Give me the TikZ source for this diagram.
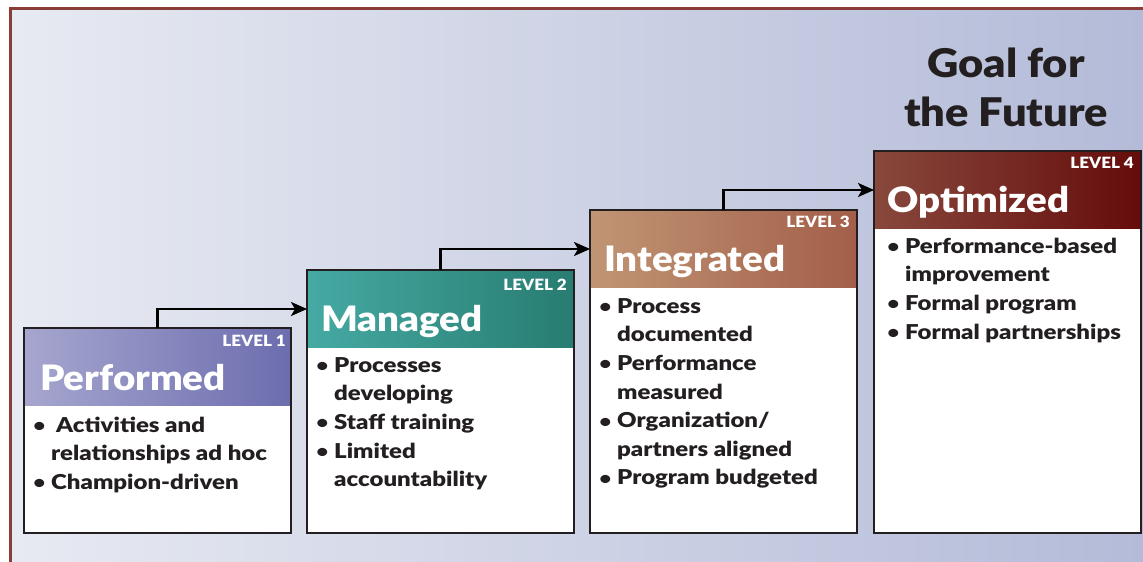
\documentclass[tikz,border=0pt]{standalone}
\usepackage{fontspec}
\setmainfont{Lato}[BoldFont={Lato Black}, BoldFeatures={FakeStretch=1.1}]
\newfontfamily\bodyfont{Lato Black}[FakeStretch=1.17]
\usetikzlibrary{arrows.meta}
\definecolor{ink}{HTML}{231F20}
\definecolor{bgL}{HTML}{E7EAF2}
\definecolor{bgR}{HTML}{B4BBD8}
\definecolor{framec}{HTML}{8A3C37}
\definecolor{p1L}{HTML}{A6A6CF}
\definecolor{p1R}{HTML}{6C6DAE}
\definecolor{p2L}{HTML}{45AAA3}
\definecolor{p2R}{HTML}{287C71}
\definecolor{p3L}{HTML}{C09574}
\definecolor{p3R}{HTML}{A35E49}
\definecolor{p4L}{HTML}{88483C}
\definecolor{p4R}{HTML}{650C0B}
\newcommand\bl{\makebox[15pt][l]{\hspace{-2.5pt}\raisebox{0.5pt}{\fontsize{17}{17}\selectfont•}}}
\newcommand\ind{\hspace*{15pt}}
\newcommand\st{\rule{0pt}{20pt}}
\tikzset{
  hdr/.style={anchor=north west, minimum width=267pt, minimum height=78pt, inner sep=0pt, outer sep=0pt},
  bodybox/.style={anchor=north west, fill=white, minimum width=267pt, inner sep=0pt, outer sep=0pt},
  boxline/.style={draw=ink, line width=2.6pt},
  ttl/.style={anchor=base west, inner sep=0pt, text=white, font=\fontsize{35}{35}\selectfont\bfseries},
  lvl/.style={anchor=base east, inner sep=0pt, text=white, font=\fontsize{15.5}{16}\selectfont\bfseries},
  txt/.style={anchor=north west, inner sep=0pt, align=left, text=ink, font=\fontsize{20.5}{28.6}\selectfont\bodyfont},
  goal/.style={anchor=north, inner sep=0pt, align=center, text=ink, font=\fontsize{39.5}{49}\selectfont\bfseries},
  arr/.style={draw=black, line width=2.6pt, -{Stealth[length=16pt,width=14pt,inset=4pt]}},
}
\begin{document}
\begin{tikzpicture}[x=1pt,y=-1pt]
\useasboundingbox (0,0) rectangle (1143,562);
\fill[white] (0,0) rectangle (1143,562);
\shade[left color=bgL, right color=bgR] (10.3,8.7) rectangle (1143,562);
\draw[framec, line width=2.7pt] (10.3,562) -- (10.3,8.7) -- (1143,8.7);

% Goal
\node[goal] (goal) at (1006,42) {\rule{0pt}{35pt}Goal for\\the Future};

% Box 1
\node[hdr, left color=p1L, right color=p1R] (h1) at (24,328) {};
\node[bodybox, minimum height=127pt] (b1) at (24,406) {};
\draw[boxline] (h1.north west) rectangle (b1.south east);
\node[ttl] (t1) at (40,390) {Performed};
\node[lvl] (l1) at (286,346) {LEVEL 1};
\node[txt] (x1) at (36,412) {\st\bl\hspace{5pt}Activities and\\\ind relationships ad hoc\\\bl Champion-driven};

% Box 2
\node[hdr, left color=p2L, right color=p2R] (h2) at (307,270) {};
\node[bodybox, minimum height=185pt] (b2) at (307,348) {};
\draw[boxline] (h2.north west) rectangle (b2.south east);
\node[ttl] (t2) at (321,331) {Managed};
\node[lvl] (l2) at (567,290) {LEVEL 2};
\node[txt] (x2) at (319,352) {\st\bl Processes\\\ind developing\\\bl Staff training\\\bl Limited\\\ind accountability};

% Box 3
\node[hdr, left color=p3L, right color=p3R] (h3) at (590,210) {};
\node[bodybox, minimum height=245pt] (b3) at (590,288) {};
\draw[boxline] (h3.north west) rectangle (b3.south east);
\node[ttl] (t3) at (604,271) {Integrated};
\node[lvl] (l3) at (850,227) {LEVEL 3};
\node[txt] (x3) at (602,293) {\st\bl Process\\\ind documented\\\bl Performance\\\ind measured\\\bl Organization/\\\ind partners aligned\\\bl Program budgeted};

% Box 4
\node[hdr, left color=p4L, right color=p4R] (h4) at (874,151) {};
\node[bodybox, minimum height=304pt] (b4) at (874,229) {};
\draw[boxline] (h4.north west) rectangle (b4.south east);
\node[ttl] (t4) at (887,212) {Optimized};
\node[lvl] (l4) at (1134,168) {LEVEL 4};
\node[txt] (x4) at (890,233) {\st\bl Performance-based\\\ind improvement\\\bl Formal program\\\bl Formal partnerships};

% Arrows
\draw[arr] (h1.north) |- (h2.west);
\draw[arr] (h2.north) |- (h3.west);
\draw[arr] (h3.north) |- (h4.west);
\end{tikzpicture}
\end{document}
